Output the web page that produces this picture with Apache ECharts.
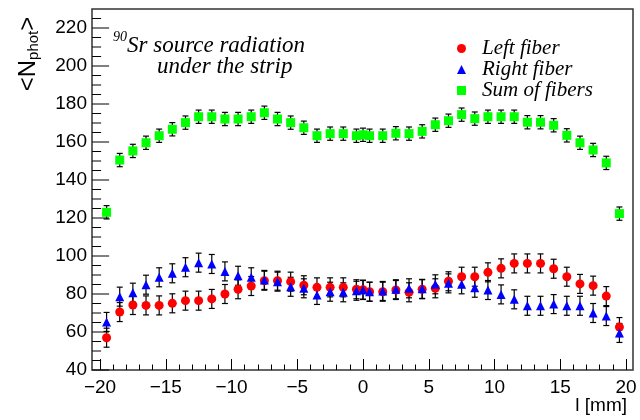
<!DOCTYPE html>
<html>
<head>
<meta charset="utf-8">
<script src="https://cdn.jsdelivr.net/npm/echarts@6/dist/echarts.min.js"></script>
<style>
    body { margin: 0; background: #fff; }
    #main { width: 640px; height: 420px; }
</style>
</head>
<body>
<div id="main"></div>
<script>
// positions along the strip (mm)
var xs = [-19.5, -18.5, -17.5, -16.5, -15.5, -14.5, -13.5, -12.5, -11.5, -10.5,
    -9.5, -8.5, -7.5, -6.5, -5.5, -4.5, -3.5, -2.5, -1.5, -0.5, 0,
    0.5, 1.5, 2.5, 3.5, 4.5, 5.5, 6.5, 7.5, 8.5, 9.5,
    10.5, 11.5, 12.5, 13.5, 14.5, 15.5, 16.5, 17.5, 18.5, 19.5];

// <N_phot> left fiber
var leftFiber = [57, 70.5, 74.2, 74, 74, 75.1, 76.5, 76.5, 77.4, 80,
    82.5, 84.2, 87, 87, 86.5, 84.6, 83.5, 83.5, 83.5, 82.5, 82.3,
    81.2, 81.2, 82.1, 80.9, 82.5, 83, 86.7, 89.1, 89.1, 91.4,
    93.5, 96.1, 96.1, 96.1, 93.3, 89.1, 85.3, 84.4, 78.9, 62.6];

// <N_phot> right fiber
var rightFiber = [65.3, 78.6, 80.7, 84.9, 88.8, 90.9, 94.1, 96.5, 95.8, 91.9,
    89.6, 88.8, 87.4, 86.5, 83.8, 83.0, 79.5, 81.2, 80.9, 81.7, 82.1,
    81.2, 81.6, 82.5, 83.0, 82.7, 85.1, 85.6, 85.1, 83.3, 82.1,
    79.8, 77.2, 73.8, 73.8, 74.7, 73.8, 73.8, 70, 68.4, 59.5];

// <N_phot> sum of fibers
var sumFibers = [123, 150.5, 155.3, 159.6, 163.3, 166.7, 170.2, 173.3, 173.3, 172.1,
    172.1, 173.3, 175.4, 172.1, 170.2, 167.5, 163.3, 164.4, 164.4, 163.3, 163.8,
    163.3, 163.3, 164.6, 164.4, 165.6, 169.1, 171.2, 174.4, 172.3, 173.3,
    173.3, 173.3, 170.4, 170.4, 168.8, 163.5, 159.6, 155.8, 149, 122.3];

// error half-widths
var errLeft = 5, errRight = 5, errSum = 3.5;

// y axis ticks, sitting on the frame edge at l = -20.6 mm
var yTickX = -20.6;
var yMajorTicks = [40, 60, 80, 100, 120, 140, 160, 180, 200, 220];
var yMinorTicks = [45, 50, 55, 65, 70, 75, 85, 90, 95, 105, 110, 115, 125, 130, 135,
    145, 150, 155, 165, 170, 175, 185, 190, 195, 205, 210, 215, 225];

var seriesNames = ['Left fiber', 'Right fiber', 'Sum of fibers'];

var serif = 'Liberation Serif';
var sans = 'Liberation Sans';

function pairs(vals) {
    return xs.map(function (x, i) { return [x, vals[i]]; });
}

// error bars drawn with custom series
function errorBars(vals, err) {
    return {
        type: 'custom',
        xAxisIndex: 1,
        yAxisIndex: 1,
        z: 1,
        silent: true,
        data: xs.map(function (x, i) { return [x, vals[i], err]; }),
        renderItem: function (params, api) {
            var x = api.value(0), y = api.value(1), e = api.value(2);
            var top = api.coord([x, y + e]);
            var bot = api.coord([x, y - e]);
            var w = 3;
            var st = { stroke: '#000', lineWidth: 1.2 };
            return {
                type: 'group',
                children: [
                    { type: 'line', shape: { x1: top[0], y1: top[1], x2: bot[0], y2: bot[1] }, style: st },
                    { type: 'line', shape: { x1: top[0] - w, y1: top[1], x2: top[0] + w, y2: top[1] }, style: st },
                    { type: 'line', shape: { x1: bot[0] - w, y1: bot[1], x2: bot[0] + w, y2: bot[1] }, style: st }
                ]
            };
        }
    };
}

function markers(idx, symbol, color, z, vals) {
    return {
        name: seriesNames[idx], type: 'scatter', z: z,
        xAxisIndex: 1, yAxisIndex: 1,
        symbol: symbol, symbolSize: 9,
        itemStyle: { color: color, opacity: 1 },
        data: pairs(vals)
    };
}

var baseGraphic = [
    // frame
    {
        type: 'rect', z: 0,
        shape: { x: 92, y: 9, width: 541, height: 361 },
        style: { fill: 'transparent', stroke: '#333', lineWidth: 1.5 }
    },
    // y title
    {
        type: 'text', x: 28, y: 54, rotation: Math.PI / 2,
        style: {
            text: '{a|<N}{s|phot}{a|>}',
            align: 'center', verticalAlign: 'middle',
            rich: {
                a: { fontFamily: sans, fontSize: 24, lineHeight: 27, verticalAlign: 'middle', fill: '#000' },
                s: { fontFamily: sans, fontSize: 15, lineHeight: 16, verticalAlign: 'bottom', fill: '#000' }
            }
        }
    },
    // x title
    {
        type: 'text', x: 627, y: 406,
        style: { text: 'l [mm]', fontFamily: sans, fontSize: 19, fill: '#000', align: 'right', verticalAlign: 'middle' }
    },
    // annotation
    {
        type: 'text', x: 113, y: 37,
        style: { text: '90', fontFamily: serif, fontStyle: 'italic', fontSize: 14, fill: '#000', verticalAlign: 'middle' }
    },
    {
        type: 'text', x: 127, y: 46,
        style: { text: 'Sr source radiation', fontFamily: serif, fontStyle: 'italic', fontSize: 23, fill: '#000', verticalAlign: 'middle' }
    },
    {
        type: 'text', x: 157, y: 67,
        style: { text: 'under the strip', fontFamily: serif, fontStyle: 'italic', fontSize: 23, fill: '#000', verticalAlign: 'middle' }
    }
];

var chart = echarts.init(document.getElementById('main'));

var option = {
    animation: false,
    backgroundColor: '#fff',
    // grid 0 = y labels, grid 1 = data + x axis
    grid: [
        { left: 92, right: 7, top: 9, bottom: 50 },
        { left: 100, right: 14, top: 9, bottom: 50 }
    ],
    legend: {
        orient: 'vertical',
        left: 452,
        top: 33,
        itemWidth: 9,
        itemHeight: 9,
        itemGap: 0,
        selectedMode: false,
        data: seriesNames,
        textStyle: {
            fontFamily: serif, fontStyle: 'italic', fontSize: 21, color: '#000',
            lineHeight: 21, padding: [0, 0, 0, 11]
        }
    },
    xAxis: [
        { type: 'value', gridIndex: 0, min: 0, max: 1, show: false },
        {
            type: 'value',
            gridIndex: 1,
            min: -20,
            max: 20,
            interval: 5,
            axisLine: { show: false, onZero: false },
            axisTick: { show: true, inside: true, length: 11, lineStyle: { color: '#000' } },
            minorTick: { show: true, splitNumber: 5, length: 5.5, lineStyle: { color: '#000' } },
            axisLabel: {
                fontFamily: sans, fontSize: 19, color: '#000', margin: 8,
                formatter: function (v) { return String(v).replace('-', '\u2212'); }
            },
            splitLine: { show: false }
        }
    ],
    yAxis: [
        {
            type: 'value',
            gridIndex: 0,
            min: 40,
            max: 230,
            interval: 10,
            axisLine: { show: false },
            axisTick: { show: false },
            axisLabel: {
                fontFamily: sans, fontSize: 19, color: '#000', margin: 5,
                formatter: function (v) { return yMajorTicks.indexOf(v) >= 0 ? String(v) : ''; }
            },
            splitLine: { show: false }
        },
        { type: 'value', gridIndex: 1, min: 40, max: 230, show: false }
    ],
    graphic: baseGraphic,
    series: [
        errorBars(leftFiber, errLeft),
        errorBars(rightFiber, errRight),
        errorBars(sumFibers, errSum),
        markers(0, 'circle', '#ff0000', 3, leftFiber),
        markers(1, 'triangle', '#0000ff', 4, rightFiber),
        markers(2, 'rect', '#00ff00', 5, sumFibers)
    ]
};

chart.setOption(option);

// y ticks: placed through the data grid's own scale
function tickLines(vals, len) {
    return vals.map(function (v) {
        var p = chart.convertToPixel({ gridIndex: 1 }, [yTickX, v]);
        return {
            type: 'line', z: 10,
            shape: { x1: p[0], y1: p[1], x2: p[0] + len, y2: p[1] },
            style: { stroke: '#000', lineWidth: 1 }
        };
    });
}

chart.setOption({
    graphic: baseGraphic.concat(tickLines(yMajorTicks, 17), tickLines(yMinorTicks, 9))
});
</script>
</body>
</html>
